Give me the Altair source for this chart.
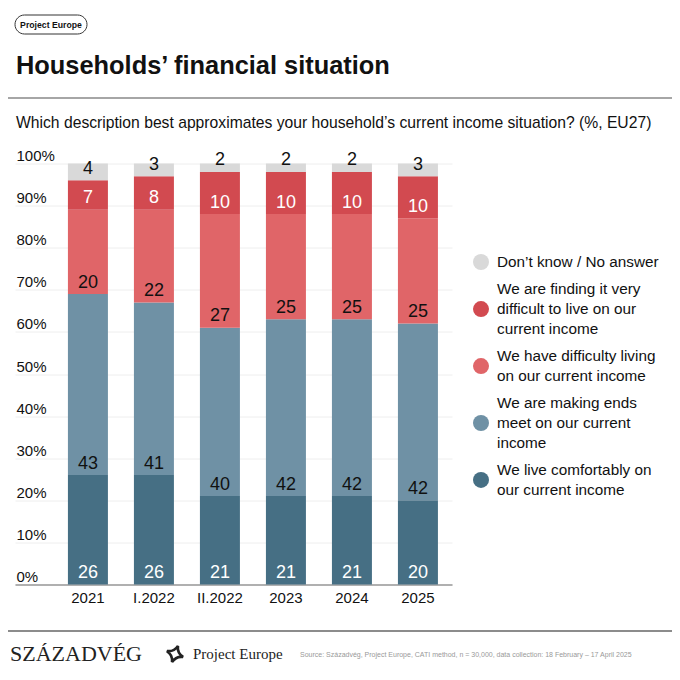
import altair as alt
import pandas as pd

periods = ["2021", "I.2022", "II.2022", "2023", "2024", "2025"]
categories = [
    "We live comfortably on our current income",
    "We are making ends meet on our current income",
    "We have difficulty living on our current income",
    "We are finding it very difficult to live on our current income",
    "Don’t know / No answer",
]
comfortably = [26, 26, 21, 21, 21, 20]
making_ends = [43, 41, 40, 42, 42, 42]
difficulty = [20, 22, 27, 25, 25, 25]
very_difficult = [7, 8, 10, 10, 10, 10]
dont_know = [4, 3, 2, 2, 2, 3]
series = [comfortably, making_ends, difficulty, very_difficult, dont_know]
colors = ["#466f84", "#6f91a5", "#e06568", "#d24a50", "#d9d9d9"]
legend_lines = [
    ["We live comfortably on", "our current income"],
    ["We are making ends", "meet on our current", "income"],
    ["We have difficulty living", "on our current income"],
    ["We are finding it very", "difficult to live on our", "current income"],
    ["Don’t know / No answer"],
]

rows = []
for ci, (cat, vals) in enumerate(zip(categories, series)):
    for p, v in zip(periods, vals):
        rows.append({"period": p, "cat": cat, "value": v, "ord": ci})
df = pd.DataFrame(rows)

W, H = 437, 421
FONT = "Liberation Sans"
color_scale = alt.Scale(domain=categories, range=colors)

base = alt.Chart(df).transform_stack(
    stack="value", groupby=["period"], sort=[alt.SortField("ord", order="ascending")],
    as_=["v0", "v1"],
)

xenc = alt.X(
    "period:N", sort=periods, title=None,
    scale=alt.Scale(paddingInner=0.394, paddingOuter=0.5075, align=0.79),
    axis=alt.Axis(labelAngle=0, ticks=False, domainColor="#999999", domainWidth=1.5,
                  labelFontSize=15, labelColor="#111111", labelPadding=5.5, grid=False,
                  labelFont=FONT),
)

bars = base.mark_bar().encode(
    x=xenc,
    y=alt.Y("v0:Q", scale=alt.Scale(domain=[0, 100], nice=False), title=None,
            axis=alt.Axis(values=list(range(0, 101, 10)), labelExpr="datum.value + '%'",
                          labelAlign="left", labelPadding=-1, ticks=False, domain=False,
                          grid=True, gridColor="#eeeeee", gridWidth=1, labelFontSize=15,
                          labelColor="#111111", labelBaseline="alphabetic", labelOffset=-3,
                          labelFont=FONT)),
    y2="v1:Q",
    color=alt.Color("cat:N", scale=color_scale, legend=None),
)

labels = base.mark_text(fontSize=18, baseline="alphabetic", dy=-6.5, font=FONT).encode(
    x=alt.X("period:N", sort=periods),
    y=alt.Y("v0:Q"),
    text=alt.Text("value:Q"),
    color=alt.condition(
        alt.FieldOneOfPredicate(field="cat", oneOf=[categories[0], categories[3]]),
        alt.value("white"), alt.value("#111111")),
)

# manual legend (top entry = Don't know), laid out by line count
LH = 19.7
GAP = 7.7
legend_layers = []
center = 262 - 163.5
prev_n = None
for cat, lines in reversed(list(zip(categories, legend_lines))):
    n = len(lines)
    if prev_n is not None:
        center += (prev_n + n) / 2 * LH + GAP
    prev_n = n
    item = pd.DataFrame({"cat": [cat]})
    legend_layers.append(
        alt.Chart(item).mark_point(filled=True, size=256, shape="circle", opacity=1).encode(
            x=alt.value(466), y=alt.value(center),
            color=alt.Color("cat:N", scale=color_scale, legend=None)))
    legend_layers.append(
        alt.Chart(item).mark_text(text=lines, fontSize=15.3, font=FONT, align="left",
                                  baseline="middle", lineHeight=LH, color="#111111").encode(
            x=alt.value(482), y=alt.value(center - (n - 1) * LH / 2)))

one = pd.DataFrame({"a": [0]})

badge = alt.Chart(one).mark_rect(cornerRadius=9.5, fill="white", stroke="#333333",
                                 strokeWidth=1).encode(
    x=alt.value(0), x2=alt.value(72), y=alt.value(-148.5), y2=alt.value(-129.5))
badge_text = alt.Chart(one).mark_text(text="Project Europe", fontSize=8.7, fontWeight="bold",
                                      font=FONT, align="center", baseline="middle",
                                      color="#111111").encode(
    x=alt.value(36), y=alt.value(-139))
title = alt.Chart(one).mark_text(text="Households’ financial situation", fontSize=25.4,
                                 fontWeight="bold", font=FONT, align="left",
                                 baseline="middle", color="#111111").encode(
    x=alt.value(1), y=alt.value(-97.5))
top_rule = alt.Chart(one).mark_rule(color="#888888", strokeWidth=1.5).encode(
    x=alt.value(-7), x2=alt.value(657), y=alt.value(-65.5))
subtitle = alt.Chart(one).mark_text(
    text="Which description best approximates your household’s current income situation? (%, EU27)",
    fontSize=15.7, font=FONT, align="left", baseline="middle", color="#111111").encode(
    x=alt.value(1), y=alt.value(-40.5))
bottom_rule = alt.Chart(one).mark_rule(color="#666666", strokeWidth=1.5).encode(
    x=alt.value(-7), x2=alt.value(657), y=alt.value(467.5))
logo1 = alt.Chart(one).mark_text(text="SZÁZADVÉG", fontSize=22, font="Liberation Serif",
                                 align="left", baseline="middle", color="#222222").encode(
    x=alt.value(-5), y=alt.value(490.5))
star = alt.Chart(one).mark_point(
    shape="M0,-1 Q0.18,-0.18 1,0 Q0.18,0.18 0,1 Q-0.18,0.18 -1,0 Q-0.18,-0.18 0,-1 Z",
    filled=False, strokeWidth=2.6, size=300, color="#222222", opacity=1, angle=20).encode(
    x=alt.value(160), y=alt.value(490.5))
logo2 = alt.Chart(one).mark_text(text="Project Europe", fontSize=15, font="Liberation Serif",
                                 align="left", baseline="middle", color="#222222").encode(
    x=alt.value(178), y=alt.value(490.5))
source = alt.Chart(one).mark_text(
    text="Source: Századvég, Project Europe, CATI method, n = 30,000, data collection: 18 February – 17 April 2025",
    fontSize=7, font=FONT, align="left", baseline="middle", color="#999999").encode(
    x=alt.value(285), y=alt.value(491.5))

chart = alt.layer(
    bars, labels, *legend_layers, badge, badge_text, title, top_rule, subtitle,
    bottom_rule, logo1, star, logo2, source,
).properties(
    width=W, height=H,
    padding={"left": 7, "top": 155.5, "right": 220, "bottom": 87.5},
    autosize=alt.AutoSizeParams(type="none"),
    background="white",
).configure_view(stroke=None)

chart.save("out.html", embed_options={"renderer": "svg", "actions": False})
